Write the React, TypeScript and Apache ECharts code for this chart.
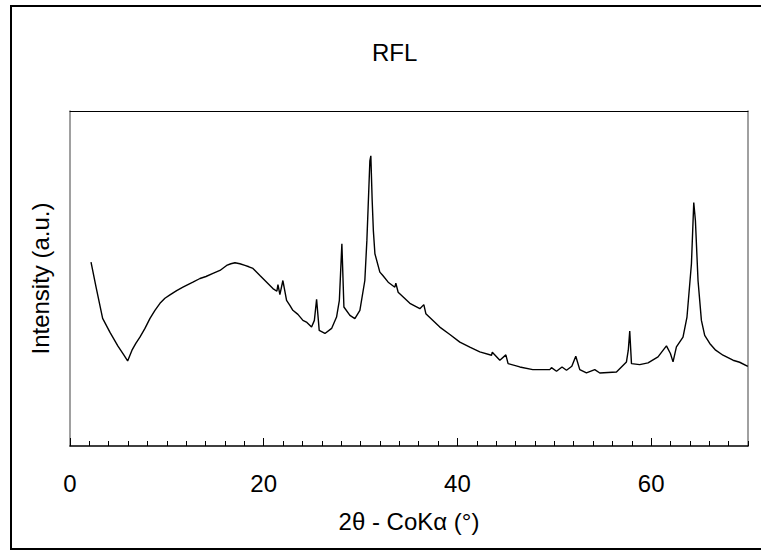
import React, { useEffect, useRef } from "react";
import * as echarts from "echarts";

// 2θ positions (degrees, CoKα)
const twoTheta: number[] = [
  2.17, 2.68, 3.37, 4.13, 4.95, 5.57, 5.95, 6.4, 6.81, 7.22,
  7.74, 8.26, 8.77, 9.29, 9.8, 10.32, 11.01, 11.66, 12.38, 12.69,
  13.42, 14.04, 14.76, 15.48, 16.17, 16.61, 17.03, 17.54, 18.06, 18.47,
  18.89, 19.61, 20.95, 21.36, 21.47, 21.67, 21.98, 22.36, 22.7, 23.01,
  23.53, 24.05, 24.46, 24.94, 25.23, 25.46, 25.73, 26.32, 27.01, 27.52,
  27.81, 28.07, 28.28, 28.9, 29.41, 29.93, 30.44, 30.65, 30.78, 30.96,
  31.06, 31.2, 31.32, 31.48, 31.99, 32.3, 32.85, 33.54, 33.64, 33.88,
  35.09, 36.12, 36.53, 36.74, 38.18, 39.22, 40.25, 41.28, 42.31, 43.52,
  43.6, 44.38, 45.0, 45.23, 46.44, 47.78, 49.54, 49.71, 50.23, 50.8,
  51.26, 51.81, 52.22, 52.63, 53.32, 54.18, 54.7, 56.42, 57.45, 57.64,
  57.79, 57.97, 58.82, 59.68, 60.71, 61.58, 61.99, 62.26, 62.61, 63.29,
  63.7, 64.16, 64.4, 64.57, 64.84, 65.19, 65.53, 66.05, 66.66, 67.42,
  68.45, 69.14, 69.98,
];

// Intensity (arbitrary units)
const intensity: number[] = [
  54.9, 47.6, 38.1, 33.9, 29.8, 27.1, 25.4, 28.6, 30.7, 32.5,
  35.1, 38.1, 40.5, 42.6, 44.1, 45.1, 46.4, 47.4, 48.5, 48.9,
  50.0, 50.6, 51.5, 52.4, 53.9, 54.4, 54.7, 54.4, 53.9, 53.5,
  53.0, 50.9, 47.0, 46.2, 48.2, 45.2, 49.4, 43.5, 42.0, 40.5,
  39.3, 37.5, 36.9, 35.5, 37.5, 43.8, 34.5, 33.6, 35.1, 38.5,
  43.5, 60.4, 41.5, 39.0, 38.0, 40.5, 49.4, 61.3, 71.2, 85.1,
  86.6, 73.2, 64.3, 57.4, 51.9, 50.9, 48.9, 47.4, 48.6, 45.9,
  42.6, 41.0, 42.2, 39.5, 35.5, 33.3, 31.0, 29.5, 28.1, 27.1,
  28.0, 25.6, 27.2, 24.6, 23.6, 22.8, 22.8, 23.4, 22.3, 23.6,
  22.6, 23.8, 26.8, 22.8, 21.8, 22.8, 21.8, 22.1, 25.1, 28.6,
  34.3, 24.6, 24.3, 24.8, 26.6, 29.9, 27.6, 25.1, 29.6, 32.5,
  38.5, 54.4, 72.7, 67.3, 49.4, 37.5, 33.0, 30.6, 28.6, 27.1,
  25.6, 25.0, 23.8,
];

const xTickLabels: number[] = [0, 20, 40, 60];

const titleText = "RFL";
const xName = "2θ - CoKα (°)";
const yName = "Intensity (a.u.)";

const FONT = "Liberation Sans, Arial, sans-serif";

export default function App() {
  const ref = useRef<HTMLDivElement>(null);
  useEffect(() => {
    if (!ref.current) return;
    const chart = echarts.init(ref.current, undefined, { renderer: "svg" });
    const data = twoTheta.map((x, i) => [x, intensity[i]]);
    chart.setOption({
      animation: false,
      backgroundColor: "#ffffff",
      title: {
        text: titleText,
        left: 372,
        top: 40,
        padding: 0,
        textStyle: { fontFamily: FONT, fontSize: 24, fontWeight: "normal", color: "#000" },
      },
      graphic: [
        {
          type: "rect",
          shape: { x: 11, y: 6, width: 770, height: 543 },
          style: { fill: "none", stroke: "#000", lineWidth: 2 },
          silent: true,
        },
      ],
      grid: { left: 70, right: 13, top: 111, bottom: 105, containLabel: false },
      xAxis: [
        {
          type: "value",
          position: "bottom",
          min: 0,
          max: 70,
          interval: 20,
          name: xName,
          nameLocation: "middle",
          nameGap: 63,
          nameTextStyle: { fontFamily: FONT, fontSize: 24, color: "#000" },
          axisLine: { show: true, onZero: false, lineStyle: { color: "#000", width: 1.5 } },
          axisTick: { show: true, inside: true, length: 8, lineStyle: { color: "#000", width: 1 } },
          axisLabel: {
            show: true,
            margin: 25,
            fontFamily: FONT,
            fontSize: 24,
            color: "#000",
            showMaxLabel: false,
            formatter: (v: number) => (xTickLabels.includes(v) ? String(v) : ""),
          },
          splitLine: { show: false },
        },
        {
          type: "value",
          position: "bottom",
          min: 0,
          max: 70,
          interval: 2,
          axisLine: { show: false, onZero: false },
          axisTick: { show: true, inside: true, length: 5, lineStyle: { color: "#000", width: 1 } },
          axisLabel: { show: false },
          splitLine: { show: false },
        },
        {
          type: "value",
          position: "top",
          min: 0,
          max: 70,
          axisLine: { show: true, onZero: false, lineStyle: { color: "#000", width: 1 } },
          axisTick: { show: false },
          axisLabel: { show: false },
          splitLine: { show: false },
        },
      ],
      yAxis: [
        {
          type: "value",
          position: "left",
          min: 0,
          max: 100,
          name: yName,
          nameLocation: "middle",
          nameGap: 18,
          nameTextStyle: { fontFamily: FONT, fontSize: 24, color: "#000" },
          axisLine: { show: true, onZero: false, lineStyle: { color: "#808080", width: 1.5 } },
          axisTick: { show: false },
          axisLabel: { show: false },
          splitLine: { show: false },
        },
        {
          type: "value",
          position: "right",
          min: 0,
          max: 100,
          axisLine: { show: true, onZero: false, lineStyle: { color: "#808080", width: 1.5 } },
          axisTick: { show: false },
          axisLabel: { show: false },
          splitLine: { show: false },
        },
      ],
      series: [
        {
          type: "line",
          xAxisIndex: 0,
          yAxisIndex: 0,
          data,
          showSymbol: false,
          symbol: "none",
          lineStyle: { color: "#000", width: 1.4 },
          z: 3,
        },
      ],
    });
    return () => chart.dispose();
  }, []);
  return (
    <div
      ref={ref}
      style={{ position: "fixed", left: 0, top: 0, width: 761, height: 551, background: "#fff" }}
    />
  );
}
